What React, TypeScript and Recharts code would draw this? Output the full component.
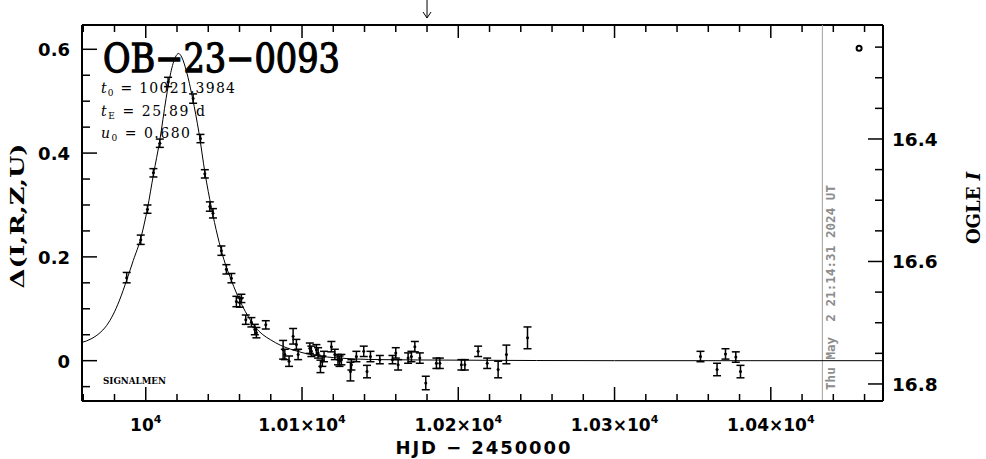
import React from 'react';
import {
  ComposedChart,
  Line,
  Scatter,
  ErrorBar,
  XAxis,
  YAxis,
  ReferenceLine,
  ReferenceDot,
  Customized,
} from 'recharts';

// ---------- data ----------
const obsDays = [
  9987.8, 9996.8, 10001.1, 10004.9, 10009.0, 10014.3, 10030.3, 10035.0, 10037.8, 10041.0,
  10043.0, 10048.4, 10051.6, 10054.8, 10058.0, 10060.2, 10061.2, 10064.0, 10067.6, 10069.8,
  10070.8, 10076.8, 10087.9, 10089.0, 10091.7, 10094.3, 10096.4, 10097.5, 10105.0, 10106.0,
  10109.2, 10110.3, 10111.8, 10113.0, 10114.1, 10118.8, 10121.0, 10123.0, 10124.0, 10125.2,
  10131.0, 10131.6, 10134.8, 10139.5, 10141.6, 10143.8, 10149.8, 10157.9, 10160.0, 10161.5,
  10167.9, 10170.0, 10172.2, 10175.4, 10179.2, 10186.0, 10188.2, 10202.0, 10204.2, 10212.7,
  10218.5, 10225.5, 10230.8, 10244.3, 10355.0, 10365.6, 10371.0, 10377.6, 10380.6,
];
const obsDelta = [
  0.160, 0.233, 0.292, 0.362, 0.419, 0.537, 0.505, 0.428, 0.360, 0.297,
  0.284, 0.212, 0.176, 0.159, 0.114, 0.112, 0.120, 0.079, 0.074, 0.060,
  0.054, 0.069, 0.021, 0.012, -0.001, 0.047, 0.031, 0.012, 0.024, 0.018,
  0.021, 0.015, -0.011, -0.001, 0.008, 0.027, 0.012, 0.002, -0.001, 0.002,
  -0.021, -0.008, 0.008, 0.018, -0.021, 0.008, 0.002, 0.002, 0.015, -0.008,
  0.005, 0.008, 0.027, 0.005, -0.043, -0.005, -0.005, -0.008, -0.008, 0.018,
  -0.005, -0.017, 0.012, 0.044, 0.008, -0.017, 0.013, 0.007, -0.021,
];
const obsErr = [
  0.010, 0.009, 0.008, 0.008, 0.008, 0.009, 0.009, 0.008, 0.008, 0.009,
  0.009, 0.009, 0.009, 0.009, 0.010, 0.009, 0.008, 0.009, 0.009, 0.010,
  0.010, 0.008, 0.018, 0.010, 0.010, 0.015, 0.010, 0.010, 0.010, 0.010,
  0.010, 0.010, 0.012, 0.010, 0.010, 0.010, 0.010, 0.010, 0.010, 0.010,
  0.018, 0.010, 0.010, 0.010, 0.012, 0.010, 0.008, 0.008, 0.010, 0.010,
  0.010, 0.010, 0.010, 0.010, 0.013, 0.010, 0.010, 0.010, 0.010, 0.010,
  0.010, 0.016, 0.018, 0.021, 0.010, 0.012, 0.010, 0.010, 0.012,
];

// model curve
const modelDays = [
  9959, 9965, 9970, 9975, 9979, 9983, 9988, 9992, 9997, 10001, 10005, 10009, 10013, 10016,
  10019, 10021, 10023, 10026, 10030, 10034, 10038, 10042, 10046, 10050, 10055, 10060, 10065,
  10070, 10075, 10080, 10086, 10095, 10105, 10120, 10150, 10200, 10300, 10472,
];
const modelDelta = [
  0.035, 0.042, 0.052, 0.068, 0.088, 0.115, 0.157, 0.193, 0.238, 0.292, 0.360, 0.425, 0.505, 0.555,
  0.585, 0.592, 0.585, 0.558, 0.505, 0.440, 0.360, 0.295, 0.240, 0.195, 0.153, 0.117, 0.088,
  0.065, 0.050, 0.040, 0.030, 0.020, 0.012, 0.006, 0.002, 0.001, 0, 0,
];

const xTicks = [
  9960, 9980, 10000, 10020, 10040, 10060, 10080, 10100, 10120, 10140, 10160, 10180, 10200,
  10220, 10240, 10260, 10280, 10300, 10320, 10340, 10360, 10380, 10400, 10420, 10440, 10460,
];
const xMajorTicks = [10000, 10100, 10200, 10300, 10400];
const xMajorMantissa = ['10', '1.01×10', '1.02×10', '1.03×10', '1.04×10'];
const xExponent = '4';

const leftTicks = [-0.05, 0, 0.05, 0.1, 0.15, 0.2, 0.25, 0.3, 0.35, 0.4, 0.45, 0.5, 0.55, 0.6];
const leftMajorTicks = [0, 0.2, 0.4, 0.6];
const leftMajorLabels = ['0', '0.2', '0.4', '0.6'];

const rightTicks = [16.25, 16.3, 16.35, 16.4, 16.45, 16.5, 16.55, 16.6, 16.65, 16.7, 16.75, 16.8];
const rightMajorTicks = [16.4, 16.6, 16.8];
const rightMajorLabels = ['16.4', '16.6', '16.8'];

const xDomain = [9959.2, 10471.8];
const leftDomain = [-0.0777, 0.6468];
const rightDomain = [16.2139, 16.8278];

const nowDay = 10433; // Thu May 2 2024
const nowLabel = 'Thu May  2 21:14:31 2024 UT';
const arrowDay = 10180;
const circleDay = 10456.5;
const circleDelta = 0.602;

const obsData = obsDays.map((t, i) => ({ t, d: obsDelta[i], err: obsErr[i] }));
const modelData = modelDays.map((t, i) => ({ t, m: modelDelta[i] }));

// ---------- layout ----------
const W = 986;
const H = 459;
const PLOT_TOP = 25;
const LEFT_W = 82;
const RIGHT_W = 103;
const BOTTOM_H = 58;
const NUM_FONT = "'DejaVu Sans', sans-serif";
const SERIF = "'DejaVu Serif', serif";

const findIdx = (arr: number[], v: number) => arr.findIndex((a) => Math.abs(a - v) < 1e-6);

const BottomTick = (props: any) => {
  const { x, y, payload } = props;
  const idx = findIdx(xMajorTicks, payload.value);
  const major = idx >= 0;
  return (
    <g>
      <line x1={x} x2={x} y1={y} y2={y - (major ? 14 : 7)} stroke="#000" strokeWidth={1.5} />
      <line x1={x} x2={x} y1={PLOT_TOP} y2={PLOT_TOP + (major ? 13 : 7)} stroke="#000" strokeWidth={1.5} />
      {major && (
        <text x={x} y={y + 30} textAnchor="middle" fontFamily={NUM_FONT} fontWeight="bold" fontSize={17} fill="#000">
          {xMajorMantissa[idx]}
          <tspan dy={-8} fontSize={11}>{xExponent}</tspan>
        </text>
      )}
    </g>
  );
};

const LeftTick = (props: any) => {
  const { x, y, payload } = props;
  const idx = findIdx(leftMajorTicks, payload.value);
  const major = idx >= 0;
  return (
    <g>
      <line x1={x} x2={x + (major ? 15 : 8)} y1={y} y2={y} stroke="#000" strokeWidth={1.5} />
      {major && (
        <text x={x - 12} y={y + 7} textAnchor="end" fontFamily={NUM_FONT} fontWeight="bold" fontSize={18} fill="#000">
          {leftMajorLabels[idx]}
        </text>
      )}
    </g>
  );
};

const RightTick = (props: any) => {
  const { x, y, payload } = props;
  const idx = findIdx(rightMajorTicks, payload.value);
  const major = idx >= 0;
  return (
    <g>
      <line x1={x} x2={x - (major ? 15 : 8)} y1={y} y2={y} stroke="#000" strokeWidth={1.5} />
      {major && (
        <text x={x + 9} y={y + 7} textAnchor="start" fontFamily={NUM_FONT} fontWeight="bold" fontSize={18.5} fill="#000">
          {rightMajorLabels[idx]}
        </text>
      )}
    </g>
  );
};

const Annotations = () => (
  <g>
    <text x={103} y={72} fontFamily={SERIF} fontSize={40} stroke="#000" strokeWidth={1.3} textLength={237} lengthAdjust="spacingAndGlyphs" fill="#000">
      OB−23−0093
    </text>
    <text x={101} y={93} fontFamily={SERIF} fontSize={14} textLength={134} lengthAdjust="spacing" fill="#000">
      <tspan fontStyle="italic">t</tspan>
      <tspan fontSize={9} dy={3}>0</tspan>
      <tspan dy={-3}> = 10021.3984</tspan>
    </text>
    <text x={101} y={116} fontFamily={SERIF} fontSize={14} textLength={104} lengthAdjust="spacing" fill="#000">
      <tspan fontStyle="italic">t</tspan>
      <tspan fontSize={9} dy={3}>E</tspan>
      <tspan dy={-3}> = 25.89 d</tspan>
    </text>
    <text x={101} y={138} fontFamily={SERIF} fontSize={14} textLength={89} lengthAdjust="spacing" fill="#000">
      <tspan fontStyle="italic">u</tspan>
      <tspan fontSize={9} dy={3}>0</tspan>
      <tspan dy={-3}> = 0.680</tspan>
    </text>
    <text x={103} y={384} fontFamily={SERIF} fontWeight="bold" fontSize={9.5} textLength={63} lengthAdjust="spacingAndGlyphs" fill="#000">
      SIGNALMEN
    </text>
    <text x={24} y={216} transform="rotate(-90 24 216)" textAnchor="middle" fontFamily={SERIF} fontWeight="bold" fontSize={19} textLength={145} lengthAdjust="spacingAndGlyphs" fill="#000">
      Δ(I,R,Z,U)
    </text>
    <text x={980} y={208} transform="rotate(-90 980 208)" textAnchor="middle" fontFamily={SERIF} fontWeight="bold" fontSize={18} fill="#000">
      OGLE <tspan fontStyle="italic">I</tspan>
    </text>
    <text x={483} y={454} textAnchor="middle" fontFamily={NUM_FONT} fontWeight="bold" fontSize={18} textLength={175} lengthAdjust="spacing" fill="#000">
      HJD − 2450000
    </text>
  </g>
);

const NowLabel = (props: any) => {
  const vb = props.viewBox || {};
  const x = (vb.x ?? 0) + 13;
  const y = (vb.y ?? 0) + (vb.height ?? 0) - 11;
  return (
    <text x={x} y={y} transform={`rotate(-90 ${x} ${y})`} fontFamily="'DejaVu Sans Mono', monospace" fontWeight="bold" fontSize={12.5} textLength={205} lengthAdjust="spacing" fill="#8c8c8c" xmlSpace="preserve">
      {nowLabel}
    </text>
  );
};

const ArrowShape = (props: any) => {
  const { x1, y1, x2, y2 } = props;
  return (
    <g>
      <line x1={x1} y1={y1} x2={x2} y2={y2} stroke="#000" strokeWidth={1} />
      <polyline points={`${x2 - 4},${y2 - 6} ${x2},${y2} ${x2 + 4},${y2 - 6}`} fill="none" stroke="#000" strokeWidth={1} />
    </g>
  );
};

export default function App() {
  return (
    <div style={{ position: 'absolute', left: 0, top: 0, width: W, height: H, background: '#fff' }}>
      <ComposedChart width={W} height={H} margin={{ top: PLOT_TOP, right: 0, bottom: 0, left: 0 }}>
        <XAxis
          dataKey="t"
          type="number"
          domain={xDomain}
          allowDataOverflow
          ticks={xTicks}
          interval={0}
          height={BOTTOM_H}
          tickSize={0}
          tickMargin={0}
          tickLine={false}
          axisLine={{ stroke: '#000', strokeWidth: 2 }}
          tick={<BottomTick />}
        />
        <YAxis
          yAxisId="left"
          orientation="left"
          type="number"
          domain={leftDomain}
          allowDataOverflow
          ticks={leftTicks}
          interval={0}
          width={LEFT_W}
          tickSize={0}
          tickMargin={0}
          tickLine={false}
          axisLine={{ stroke: '#000', strokeWidth: 2 }}
          tick={<LeftTick />}
        />
        <YAxis
          yAxisId="right"
          orientation="right"
          type="number"
          domain={rightDomain}
          reversed
          allowDataOverflow
          ticks={rightTicks}
          interval={0}
          width={RIGHT_W}
          tickSize={0}
          tickMargin={0}
          tickLine={false}
          axisLine={{ stroke: '#000', strokeWidth: 2 }}
          tick={<RightTick />}
        />
        <ReferenceLine yAxisId="left" y={leftDomain[1]} stroke="#000" strokeWidth={2} />
        <ReferenceLine yAxisId="left" x={nowDay} stroke="#a0a0a0" strokeWidth={1} label={<NowLabel />} />
        <ReferenceLine
          yAxisId="left"
          ifOverflow="visible"
          segment={[
            { x: arrowDay, y: 0.695 },
            { x: arrowDay, y: 0.6603 },
          ]}
          shape={<ArrowShape />}
        />
        <Line
          yAxisId="left"
          data={modelData}
          dataKey="m"
          type="monotone"
          dot={false}
          stroke="#000"
          strokeWidth={1}
          isAnimationActive={false}
        />
        <Scatter
          yAxisId="left"
          data={obsData}
          dataKey="d"
          isAnimationActive={false}
          shape={(p: any) => <circle cx={p.cx} cy={p.cy} r={1.5} fill="#000" />}
        >
          <ErrorBar dataKey="err" direction="y" width={4} stroke="#000" strokeWidth={1.5} isAnimationActive={false} />
        </Scatter>
        <ReferenceDot yAxisId="left" x={circleDay} y={circleDelta} r={2.5} fill="#fff" stroke="#000" strokeWidth={2} />
        <Customized component={Annotations} />
      </ComposedChart>
    </div>
  );
}
